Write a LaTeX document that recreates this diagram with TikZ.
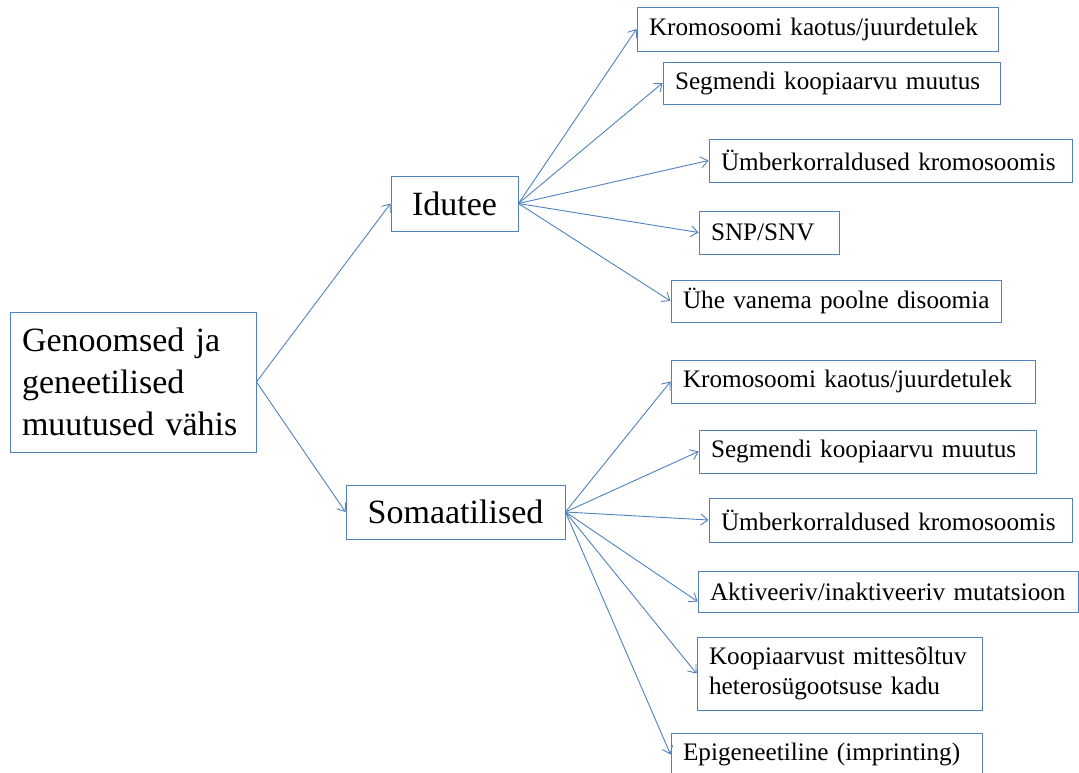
\documentclass[tikz,border=0pt]{standalone}
\usepackage{fontspec}
\setmainfont{Liberation Serif}
\usetikzlibrary{arrows.meta}
\definecolor{bblue}{HTML}{4F81BD}
\begin{document}
\begin{tikzpicture}[x=1pt,y=-1pt,
  bx/.style={draw=bblue, line width=0.9pt, inner xsep=12pt, inner ysep=0pt, anchor=center,
    font=\fontsize{25.2}{30}\selectfont, align=left},
  big/.style={draw=bblue, line width=0.9pt, inner sep=0pt, anchor=center,
    font=\fontsize{34}{42}\selectfont, align=center},
  arr/.style={draw=bblue, line width=0.9pt, -{Straight Barb[length=7pt,width=11pt]}}]
\useasboundingbox (0,0) rectangle (1079,773);
\node[bx, minimum height=140pt, text width=222pt, font=\fontsize{34}{42}\selectfont] (main) at (133,382) {\mbox{Genoomsed ja}\\\mbox{geneetilised}\\\mbox{muutused vähis}};
\node[big, minimum width=127pt, minimum height=55pt] (id) at (454.5,203.5) {Idutee};
\node[big, minimum width=219pt, minimum height=54pt] (som) at (455.5,512) {Somaatilised};
% Idutee children
\node[bx, text width=337pt, minimum height=44pt] (k1) at (817.5,29) {\mbox{Kromosoomi kaotus/juurdetulek}};
\node[bx, text width=313pt, minimum height=42pt] (s1) at (831.5,83) {\mbox{Segmendi koopiaarvu muutus}};
\node[bx, text width=339pt, minimum height=43pt] (u1) at (890.5,160.5) {\mbox{Ümberkorraldused kromosoomis}};
\node[bx, text width=116pt, minimum height=43pt] (snp) at (769,232.5) {\mbox{SNP/SNV}};
\node[bx, text width=306pt, minimum height=42pt] (uhe) at (836,301) {\mbox{Ühe vanema poolne disoomia}};
% Somaatilised children
\node[bx, text width=340pt, minimum height=43pt] (k2) at (853,381.5) {\mbox{Kromosoomi kaotus/juurdetulek}};
\node[bx, text width=313pt, minimum height=43pt] (s2) at (867.5,451.5) {\mbox{Segmendi koopiaarvu muutus}};
\node[bx, text width=339pt, minimum height=44pt] (u2) at (890.5,520) {\mbox{Ümberkorraldused kromosoomis}};
\node[bx, text width=356pt, minimum height=41pt] (akt) at (888,591.5) {\mbox{Aktiveeriv/inaktiveeriv mutatsioon}};
\node[bx, text width=261pt, minimum height=73pt] (koo) at (839.5,673.5) {\mbox{Koopiaarvust mittesõltuv}\\\mbox{heterosügootsuse kadu}};
\node[bx, text width=287pt, minimum height=43pt] (epi) at (826.5,754.5) {\mbox{Epigeneetiline (imprinting)}};
% connectors
\draw[arr] (main.east) -- (id.west);
\draw[arr] (main.east) -- (som.west);
\foreach \n in {k1,s1,u1,snp,uhe} \draw[arr] (id.east) -- (\n.west);
\foreach \n in {k2,s2,u2,koo,epi} \draw[arr] (som.east) -- (\n.west);
\draw[arr] (som.east) -- ([yshift=-10pt]akt.west);
\end{tikzpicture}
\end{document}
